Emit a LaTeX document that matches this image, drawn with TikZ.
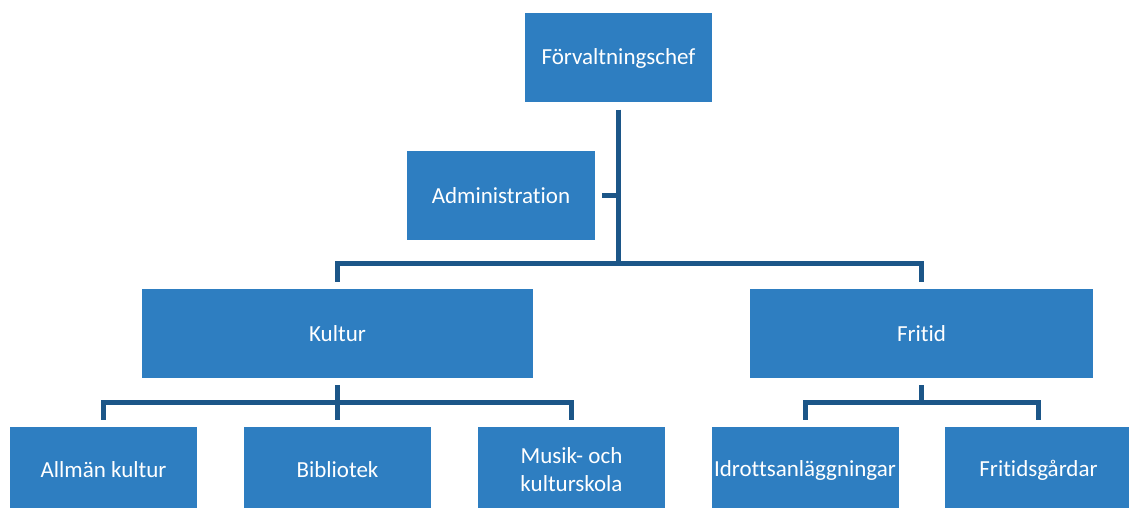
\documentclass[tikz,border=0pt]{standalone}
\usepackage{fontspec}
\setmainfont{Carlito}[Ligatures=NoCommon]
\definecolor{boxblue}{RGB}{46,126,193}
\definecolor{lineblue}{RGB}{28,86,136}
\begin{document}
\begin{tikzpicture}[x=1pt,y=-1pt,
  box/.style={fill=boxblue,draw=none,text=white,inner sep=0pt,align=center,
    font=\fontsize{23}{28}\selectfont,minimum height=89pt},
  conn/.style={draw=lineblue,line width=5pt,line join=miter}]
\useasboundingbox (0,0) rectangle (1129,508);
\clip (0,0) rectangle (1129,508);
\node[box,minimum width=187pt] (F) at (618.5,58) {Förvaltningschef};
\node[box,minimum width=188pt] (A) at (501,195.5) {Administration};
\node[box,minimum width=391pt] (K) at (337.5,333.5) {Kultur};
\node[box,minimum width=343pt] (R) at (921.5,333.5) {Fritid};
\node[box,minimum width=187pt,minimum height=86pt] (K1) at (103.5,470) {Allmän kultur};
\node[box,minimum width=187pt,minimum height=86pt] (K2) at (337.5,470) {Bibliotek};
\node[box,minimum width=187pt,minimum height=86pt] (K3) at (571.5,470) {Musik- och\\kulturskola};
\node[box,minimum width=187pt,minimum height=86pt] (R1) at (805,470) {Idrottsanläggningar};
\node[box,minimum width=187pt,minimum height=86pt] (R2) at (1038.5,470) {Fritidsgårdar};
\coordinate (j) at (618.5,263);
\coordinate (kj) at (337.5,402);
\coordinate (rj) at (921.5,402);
\draw[conn,shorten <=7pt] (F.south) -- (j);
\draw[conn,shorten <=7pt] (A.east) -- (A.east -| j);
\draw[conn,shorten >=7pt] (j) -| (K.north);
\draw[conn,shorten >=7pt] (j) -| (R.north);
\draw[conn,shorten <=7pt] (K.south) -- (kj);
\draw[conn,shorten >=7pt] (kj) -| (K1.north);
\draw[conn,shorten >=7pt] (kj) -- (K2.north);
\draw[conn,shorten >=7pt] (kj) -| (K3.north);
\draw[conn,shorten <=7pt] (R.south) -- (rj);
\draw[conn,shorten >=7pt] (rj) -| (R1.north);
\draw[conn,shorten >=7pt] (rj) -| (R2.north);
\end{tikzpicture}
\end{document}
